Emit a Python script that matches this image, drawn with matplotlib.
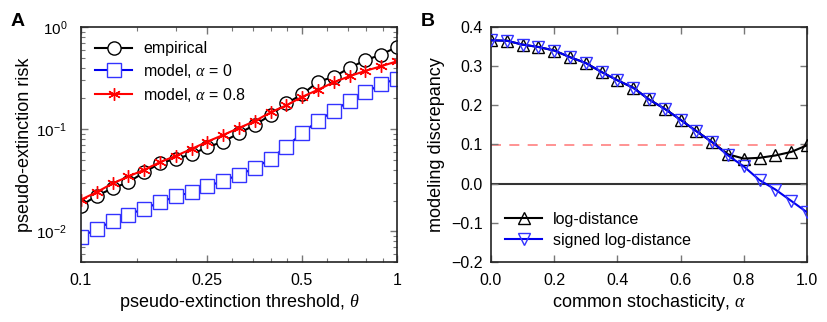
import numpy as np
import matplotlib.pyplot as plt

plt.rcParams["font.family"] = ["Liberation Sans", "DejaVu Sans"]
plt.rcParams["mathtext.fontset"] = "custom"
plt.rcParams["mathtext.rm"] = "Liberation Sans"
plt.rcParams["mathtext.it"] = "Liberation Serif:italic"
plt.rcParams["mathtext.bf"] = "Liberation Sans:bold"

# panel A: 21 thresholds, log-spaced between 0.1 and 1
theta = np.logspace(-1, 0, 21)
risk_empirical = [0.0178, 0.0223, 0.0263, 0.0303, 0.0377, 0.0464, 0.0512, 0.0568, 0.0665, 0.0755, 0.091,
                  0.110, 0.137, 0.179, 0.219, 0.291, 0.325, 0.398, 0.473, 0.537, 0.638]
risk_alpha0 = [0.0088, 0.01054, 0.01253, 0.01456, 0.01664, 0.0192, 0.0219, 0.0242, 0.0275, 0.0312, 0.0357,
               0.0415, 0.0512, 0.0675, 0.091, 0.121, 0.150, 0.190, 0.229, 0.274, 0.313]
risk_alpha08 = [0.0204, 0.0242, 0.0294, 0.0344, 0.040, 0.0475, 0.0547, 0.064, 0.0755, 0.0877, 0.1026,
                0.120, 0.146, 0.171, 0.207, 0.243, 0.288, 0.330, 0.372, 0.413, 0.462]

# panel B: common stochasticity alpha
alpha = np.linspace(0, 1, 21)
log_dist = [0.366, 0.365, 0.355, 0.349, 0.340, 0.323, 0.308, 0.285, 0.264, 0.245, 0.215,
            0.191, 0.163, 0.134, 0.106, 0.075, 0.064, 0.066, 0.072, 0.081, 0.098]
signed_log_dist = [0.366, 0.365, 0.355, 0.349, 0.340, 0.323, 0.308, 0.285, 0.264, 0.245, 0.215,
                   0.191, 0.163, 0.134, 0.106, 0.072, 0.044, 0.009, -0.015, -0.044, -0.073]

W, H = 828, 322
fig = plt.figure(figsize=(W / 100, H / 100), dpi=100)
axA = fig.add_axes([81 / W, 1 - 262 / H, 316 / W, 235 / H])
axB = fig.add_axes([491 / W, 1 - 262 / H, 316 / W, 235 / H])

for ax in (axA, axB):
    for s in ax.spines.values():
        s.set_color("#222222")
        s.set_linewidth(1.2)
    ax.tick_params(which="both", direction="in", top=True, right=True, color="#777777",
                   labelsize=11.5)
    ax.tick_params(which="major", length=5, width=1)
    ax.tick_params(which="minor", length=3, width=0.8)
    ax.tick_params(axis="x", pad=8)

# --- A ---
axA.plot(theta, risk_empirical, "-o", color="black", lw=1.5, ms=9.5, mfc="white", mec="black",
         mew=1.0, label="empirical")
axA.plot(theta, risk_alpha0, "-s", color="#0000ee", lw=1.5, ms=9.5, mfc="white", mec="#3333ff",
         mew=1.0, label=r"model, $\alpha$ = 0")
axA.plot(theta, risk_alpha08, "-", marker=(6, 2, 0), color="red", lw=1.5, ms=9, mec="red",
         mew=1.0, label=r"model, $\alpha$ = 0.8")
axA.set_xscale("log")
axA.set_yscale("log")
axA.set_xlim(0.1, 1)
axA.set_ylim(0.005, 1)
axA.set_xticks([0.1, 0.25, 0.5, 1])
axA.set_xticklabels(["0.1", "0.25", "0.5", "1"])
axA.xaxis.set_minor_locator(plt.FixedLocator([0.15, 0.2, 0.3, 0.35, 0.4, 0.45, 0.6, 0.7, 0.8, 0.9]))
axA.xaxis.set_minor_formatter(plt.NullFormatter())
axA.tick_params(axis="y", pad=10, labelsize=11)
axA.set_xlabel(r"pseudo-extinction threshold, $\theta$", fontsize=13, labelpad=3)
axA.set_ylabel("pseudo-extinction risk", fontsize=13)
axA.yaxis.set_label_coords(-0.152, 0.5)
axA.legend(loc="upper left", frameon=False, fontsize=11.5, handlelength=2.3, borderaxespad=0.5,
           handletextpad=0.7, labelspacing=0.35)
fig.text(18 / W, 1 - 21 / H, "A", fontsize=14, fontweight="bold", va="center", ha="center")

# --- B ---
axB.axhline(0.0, color="#333333", lw=1.5, zorder=1)
axB.axhline(0.1, color="#ff8080", lw=1.2, ls=(0, (6, 5)), zorder=1)
axB.plot(alpha, log_dist, "-^", color="black", lw=1.5, ms=9, mfc="none", mec="black",
         mew=1.0, label="log-distance", zorder=3)
axB.plot(alpha, signed_log_dist, "-v", color="#0000ee", lw=1.5, ms=9, mfc="none", mec="#3333ff",
         mew=1.0, label="signed log-distance", zorder=4)
axB.set_xlim(0, 1)
axB.set_ylim(-0.2, 0.4)
axB.set_xticks(np.arange(0, 1.01, 0.2))
axB.set_yticks(np.arange(-0.2, 0.41, 0.1))
axB.xaxis.set_major_formatter(plt.FormatStrFormatter("%.1f"))
axB.yaxis.set_major_formatter(plt.FuncFormatter(lambda v, p: f"{v:.1f}".replace("-", "\u2212") if abs(v) > 1e-9 else "0.0"))
axB.tick_params(axis="y", pad=6)
axB.set_xlabel(r"common stochasticity, $\alpha$", fontsize=13, labelpad=3)
axB.set_ylabel("modeling discrepancy", fontsize=13)
axB.yaxis.set_label_coords(-0.146, 0.5)
axB.legend(loc="lower left", frameon=False, fontsize=11.5, handlelength=2.3, borderaxespad=0.5,
           handletextpad=0.7, labelspacing=0.35)
fig.text(428 / W, 1 - 21 / H, "B", fontsize=14, fontweight="bold", va="center", ha="center")

fig.savefig("out.png", dpi=100)
